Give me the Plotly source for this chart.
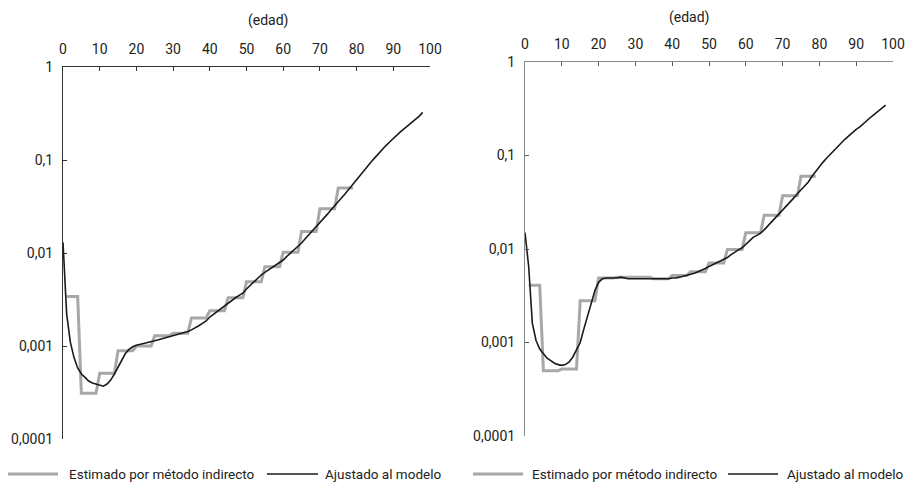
import plotly.graph_objects as go
from plotly.subplots import make_subplots

# ---------------- data ----------------
ages_fit = list(range(0, 99))

left_fit = [
    0.013, 0.0022, 0.0011, 0.00075, 0.00058, 0.0005, 0.00046, 0.00042, 0.0004, 0.00039,
    0.00038, 0.00037, 0.00039, 0.00043, 0.0005, 0.0006, 0.00072, 0.00083, 0.00092, 0.00098,
    0.00102, 0.00104, 0.00107, 0.0011, 0.00112, 0.00114, 0.00117, 0.0012, 0.00122, 0.00125,
    0.00128, 0.00131, 0.00134, 0.00138, 0.00143, 0.00149, 0.00156, 0.00165, 0.00175, 0.00186,
    0.00205, 0.0022, 0.00235, 0.0025, 0.0027, 0.0029, 0.0031, 0.0033, 0.0035, 0.0037,
    0.0041, 0.0045, 0.0049, 0.0053, 0.0058, 0.0062, 0.0066, 0.0070, 0.0074, 0.0078,
    0.0084, 0.0092, 0.0100, 0.0108, 0.0117, 0.0128, 0.0142, 0.0157, 0.0174, 0.0192,
    0.021, 0.023, 0.026, 0.029, 0.032, 0.036, 0.040, 0.044, 0.049, 0.055,
    0.061, 0.069, 0.078, 0.087, 0.096, 0.106, 0.118, 0.131, 0.143, 0.156,
    0.171, 0.186, 0.202, 0.218, 0.235, 0.252, 0.272, 0.295, 0.325,
]

right_fit = [
    0.015, 0.0065, 0.0016, 0.00105, 0.00085, 0.00075, 0.00068, 0.00064, 0.0006, 0.00058,
    0.00057, 0.00058, 0.00062, 0.0007, 0.00085, 0.001, 0.0014, 0.0019, 0.0027, 0.0036,
    0.0044, 0.0048, 0.0049, 0.0049, 0.0049, 0.0049, 0.0050, 0.0049, 0.0048, 0.0048,
    0.0048, 0.0048, 0.0048, 0.0048, 0.0048, 0.0048, 0.0048, 0.0048, 0.0048, 0.0048,
    0.0049, 0.0049, 0.0050, 0.0051, 0.0052, 0.0053, 0.0055, 0.0057, 0.0059, 0.0062,
    0.0065, 0.0068, 0.0071, 0.0074, 0.0077, 0.0081, 0.0087, 0.0093, 0.0098, 0.0103,
    0.0112, 0.0123, 0.0133, 0.0140, 0.0148, 0.0160, 0.0176, 0.0195, 0.0218, 0.0240,
    0.026, 0.029, 0.032, 0.035, 0.039, 0.043, 0.047, 0.052, 0.060, 0.068,
    0.076, 0.085, 0.094, 0.104, 0.115, 0.126, 0.137, 0.150, 0.163, 0.177,
    0.190, 0.202, 0.220, 0.238, 0.258, 0.277, 0.298, 0.322, 0.345,
]

# indirect estimates by age group (group start ages; last group ends at 79)
group_starts = [1, 5, 10, 15, 20, 25, 30, 35, 40, 45, 50, 55, 60, 65, 70, 75]
group_last_age = 79
left_est = [0.0034, 0.00031, 0.00051, 0.00089, 0.00100, 0.00129, 0.00137, 0.0020,
            0.0024, 0.0033, 0.0049, 0.0071, 0.0102, 0.017, 0.030, 0.050]
right_est = [0.0041, 0.00050, 0.00052, 0.0028, 0.0049, 0.0050, 0.0050, 0.0048,
             0.0052, 0.0057, 0.0071, 0.0099, 0.0149, 0.023, 0.037, 0.060]

x_ticks = [0, 10, 20, 30, 40, 50, 60, 70, 80, 90, 100]
y_ticks = [0.0001, 0.001, 0.01, 0.1, 1]
y_tick_text = ["0,0001", "0,001", "0,01", "0,1", "1"]

axis_title = "(edad)"
legend_est = "Estimado por método indirecto"
legend_fit = "Ajustado al modelo"


def expand_groups(values):
    xs, ys = [], []
    ends = group_starts[1:] + [group_last_age + 1]
    for a, e, v in zip(group_starts, ends, values):
        for age in range(a, e):
            xs.append(age)
            ys.append(v)
    return xs, ys


W, H = 909, 483
FONT = "Liberation Sans Narrow, Arial Narrow, Roboto, Liberation Sans, sans-serif"
FS = 14
GRAY = "#a8a8a8"
BLACK = "#1a1a1a"
TXT = "#222"

fig = make_subplots(rows=1, cols=2)

for col, est, fit in [(1, left_est, left_fit), (2, right_est, right_fit)]:
    gx, gy = expand_groups(est)
    fig.add_trace(go.Scatter(x=gx, y=gy, mode="lines", name=legend_est,
                             line=dict(color=GRAY, width=3), showlegend=False),
                  row=1, col=col)
    fig.add_trace(go.Scatter(x=ages_fit, y=fit, mode="lines", name=legend_fit,
                             line=dict(color=BLACK, width=1.6), showlegend=False),
                  row=1, col=col)


def px_x(p):
    return p / W


def px_y(p):
    return 1 - p / H


axis_common = dict(showgrid=False, zeroline=False, ticks="inside", ticklen=4,
                   automargin=False, showline=True, linewidth=1,
                   tickfont=dict(family=FONT, size=FS, color=TXT))

fig.update_xaxes(range=[0, 100], side="top", tickvals=x_ticks,
                 ticklabelstandoff=6, **axis_common)
fig.update_yaxes(type="log", range=[-4, 0], tickvals=y_ticks, ticktext=y_tick_text,
                 ticklabelstandoff=6, **axis_common)

fig.update_layout(
    xaxis=dict(domain=[px_x(63), px_x(430)], linecolor="#333", tickcolor="#333", anchor="y"),
    yaxis=dict(domain=[px_y(439), px_y(67)], linecolor="#333", tickcolor="#333", anchor="x"),
    xaxis2=dict(domain=[px_x(525), px_x(893)], linecolor="#888", tickcolor="#555", anchor="y2"),
    yaxis2=dict(domain=[px_y(436), px_y(62)], linecolor="#888", tickcolor="#555", anchor="x2"),
)

annotations = [
    dict(text=axis_title, x=px_x(246), y=px_y(21), xref="paper", yref="paper",
         yanchor="middle", showarrow=False, font=dict(family=FONT, size=FS, color=TXT)),
    dict(text=axis_title, x=px_x(712), y=px_y(18), xref="paper", yref="paper",
         yanchor="middle", showarrow=False, font=dict(family=FONT, size=FS, color=TXT)),
]
shapes = []
legend_items = [
    (8, 58, 67, GRAY, 3, legend_est),
    (267, 318, 323, BLACK, 1.6, legend_fit),
    (473, 523, 530, GRAY, 3, legend_est),
    (728, 778, 785, BLACK, 1.6, legend_fit),
]
for x0, x1, tx, c, w, t in legend_items:
    shapes.append(dict(type="line", xref="paper", yref="paper",
                       x0=px_x(x0), x1=px_x(x1), y0=px_y(474), y1=px_y(474),
                       line=dict(color=c, width=w)))
    annotations.append(dict(text=t, x=px_x(tx), y=px_y(474), xref="paper", yref="paper",
                            xanchor="left", yanchor="middle", showarrow=False,
                            font=dict(family=FONT, size=13.5, color=TXT)))

fig.update_layout(
    width=W, height=H, margin=dict(l=0, r=0, t=0, b=0),
    paper_bgcolor="white", plot_bgcolor="white",
    showlegend=False, annotations=annotations, shapes=shapes,
    font=dict(family=FONT, size=FS, color=TXT),
)

fig.write_html("out.html", config={"displayModeBar": False},
               post_script="document.body.style.margin='0';document.body.style.overflow='hidden';")
